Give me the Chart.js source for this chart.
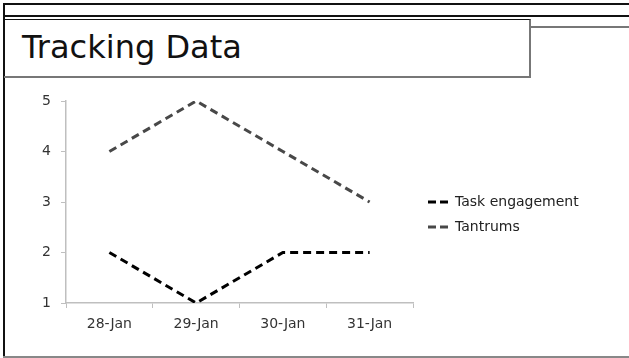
<!DOCTYPE html>
<html>
<head>
<meta charset="utf-8">
<script src="https://cdn.jsdelivr.net/npm/chart.js@4.4.1/dist/chart.umd.min.js"></script>
<style>
  html, body { margin: 0; padding: 0; background: #fff; }
  #slide { position: relative; width: 629px; height: 358px; overflow: hidden; font-family: "DejaVu Sans", sans-serif; }
  .rule { position: absolute; }
  #title {
    position: absolute; left: 4px; top: 19px; width: 527px; height: 59px; box-sizing: border-box;
    border-top: 1px solid #111; border-right: 2px solid #777; border-bottom: 2px solid #777;
    font-size: 32px; color: #111; line-height: 54px; padding-left: 18px;
  }
  canvas { position: absolute; left: 0; top: 0; }
</style>
</head>
<body>
<div id="slide">
  <div class="rule" style="left:3px; top:3px; width:626px; height:2px; background:#111;"></div>
  <div class="rule" style="left:3px; top:15px; width:626px; height:2px; background:#111;"></div>
  <div class="rule" style="left:531px; top:26px; width:98px; height:2px; background:#777;"></div>
  <div class="rule" style="left:3px; top:3px; width:2px; height:355px; background:#111;"></div>
  <div class="rule" style="left:3px; top:356px; width:626px; height:2px; background:#888;"></div>
  <div id="title">Tracking Data</div>
  <canvas id="chart" width="629" height="358"></canvas>
</div>
<script>
const categories = ['28-Jan', '29-Jan', '30-Jan', '31-Jan'];
const taskEngagement = [2, 1, 2, 2];
const tantrums = [4, 5, 4, 3];
const yTicks = [1, 2, 3, 4, 5];

const FONT = { family: '"DejaVu Sans", sans-serif', size: 14 };

// simple legend drawn on the right, one row per dataset
const sideLegend = {
  id: 'sideLegend',
  afterDraw(chart) {
    const ctx = chart.ctx;
    ctx.save();
    chart.data.datasets.forEach((ds, i) => {
      const y = 202 + i * 25;
      ctx.strokeStyle = ds.borderColor;
      ctx.lineWidth = 3;
      ctx.setLineDash([8, 4]);
      ctx.beginPath();
      ctx.moveTo(428, y);
      ctx.lineTo(452, y);
      ctx.stroke();
      ctx.setLineDash([]);
      ctx.fillStyle = '#222';
      ctx.font = '14px "DejaVu Sans", sans-serif';
      ctx.textBaseline = 'middle';
      ctx.fillText(ds.label, 455, y);
    });
    ctx.restore();
  }
};

new Chart(document.getElementById('chart'), {
  type: 'line',
  data: {
    labels: categories,
    datasets: [
      {
        label: 'Task engagement',
        data: taskEngagement,
        borderColor: '#000000',
        borderWidth: 3,
        borderDash: [8, 5],
        pointRadius: 0,
        tension: 0,
        fill: false,
      },
      {
        label: 'Tantrums',
        data: tantrums,
        borderColor: '#484848',
        borderWidth: 3,
        borderDash: [8, 5],
        pointRadius: 0,
        tension: 0,
        fill: false,
      },
    ],
  },
  options: {
    responsive: false,
    animation: false,
    layout: { padding: { left: 0, top: 101, right: 216, bottom: 0 } },
    plugins: {
      legend: { display: false },
      tooltip: { enabled: false },
    },
    scales: {
      x: {
        offset: true,
        grid: { offset: true, drawOnChartArea: false, color: '#bfbfbf', tickLength: 5 },
        border: { color: '#bfbfbf', width: 1.5 },
        ticks: { color: '#333', font: FONT, padding: 8, maxRotation: 0 },
        afterFit: (s) => { s.height = 55; },
      },
      y: {
        min: 1,
        max: 5,
        afterBuildTicks: (s) => { s.ticks = yTicks.map((v) => ({ value: v })); },
        grid: { drawOnChartArea: false, color: '#bfbfbf', tickLength: 5 },
        border: { color: '#bfbfbf', width: 1.5 },
        ticks: { color: '#333', font: FONT, padding: 10 },
        afterFit: (s) => { s.width = 66; },
      },
    },
  },
  plugins: [sideLegend],
});
</script>
</body>
</html>
